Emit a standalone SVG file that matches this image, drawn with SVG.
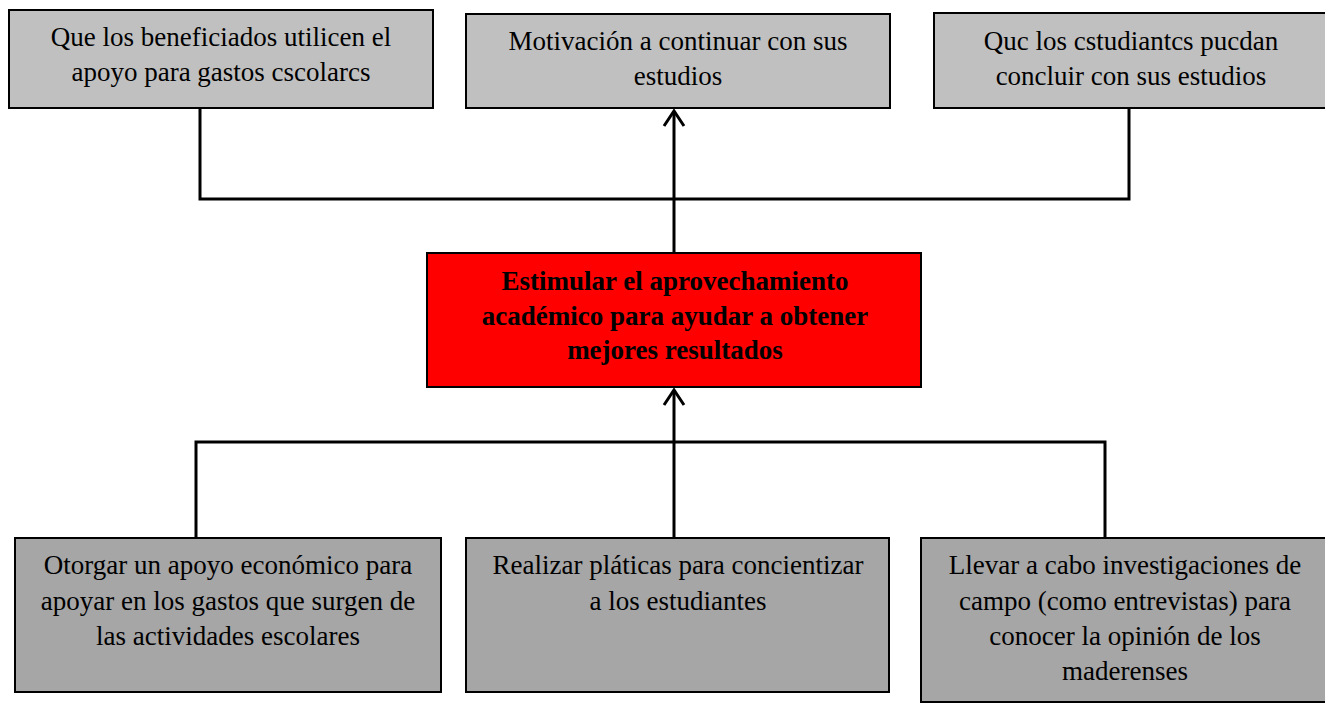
<svg xmlns="http://www.w3.org/2000/svg" width="1325" height="704" viewBox="0 0 1325 704">
<style>
.top{fill:#c0c0c0;stroke:#000;stroke-width:2}
.bot{fill:#a6a6a6;stroke:#000;stroke-width:2}
.red{fill:#ff0000;stroke:#000;stroke-width:2}
.t{font-family:'Liberation Serif', 'Times New Roman', serif;font-size:27px;fill:#000;text-anchor:middle}
.b{font-weight:bold}
.c{fill:none;stroke:#000;stroke-width:3}
</style>
<defs>
<marker id="arr" viewBox="0 0 20 24" refX="17" refY="12" markerWidth="20" markerHeight="24" markerUnits="userSpaceOnUse" orient="auto">
<path d="M2,2 L17,12 L2,22" fill="none" stroke="#000" stroke-width="3"/>
</marker>
</defs>
<rect width="1325" height="704" fill="#fff"/>
<g id="connectors">
<polyline class="c" points="200,108 200,199 1129,199 1129,108"/>
<line class="c" x1="674" y1="253" x2="674" y2="111" marker-end="url(#arr)"/>
<polyline class="c" points="196,538 196,442 1105,442 1105,538"/>
<line class="c" x1="674" y1="538" x2="674" y2="390" marker-end="url(#arr)"/>
</g>
<g class="t" font-family="Liberation Serif, serif">
<g id="n1">
<rect class="top" x="9" y="10" width="424" height="98"/>
<text x="221" y="46">Que los beneficiados utilicen el</text>
<text x="221" y="81">apoyo para gastos cscolarcs</text>
</g>
<g id="n2">
<rect class="top" x="466" y="14" width="424" height="94"/>
<text x="678" y="50">Motivación a continuar con sus</text>
<text x="678" y="85">estudios</text>
</g>
<g id="n3">
<rect class="top" x="934" y="13" width="396" height="95"/>
<text x="1131" y="50">Quc los cstudiantcs pucdan</text>
<text x="1131" y="85">concluir con sus estudios</text>
</g>
<g id="center">
<rect class="red" x="427" y="253" width="494" height="134"/>
<text class="b" x="675" y="290">Estimular el aprovechamiento</text>
<text class="b" x="675" y="325">académico para ayudar a obtener</text>
<text class="b" x="675" y="359">mejores resultados</text>
</g>
<g id="b1">
<rect class="bot" x="15" y="538" width="426" height="154"/>
<text x="228" y="574">Otorgar un apoyo económico para</text>
<text x="228" y="610">apoyar en los gastos que surgen de</text>
<text x="228" y="645">las actividades escolares</text>
</g>
<g id="b2">
<rect class="bot" x="466" y="538" width="423" height="154"/>
<text x="678" y="574">Realizar pláticas para concientizar</text>
<text x="678" y="610">a los estudiantes</text>
</g>
<g id="b3">
<rect class="bot" x="921" y="538" width="410" height="164"/>
<text x="1125" y="574">Llevar a cabo investigaciones de</text>
<text x="1125" y="610">campo (como entrevistas) para</text>
<text x="1125" y="645">conocer la opinión de los</text>
<text x="1125" y="680">maderenses</text>
</g>
</g>
</svg>
